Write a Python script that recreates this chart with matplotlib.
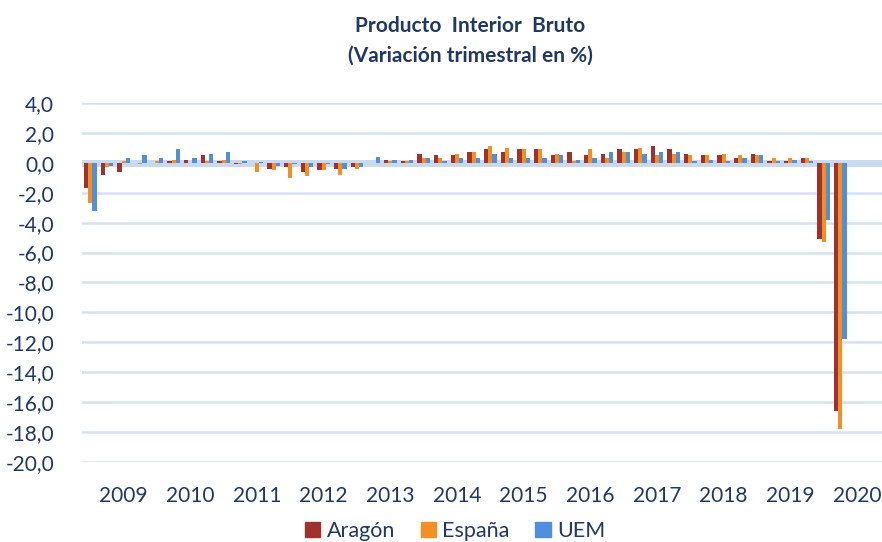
import numpy as np
import matplotlib
matplotlib.use("Agg")
import matplotlib.pyplot as plt
from matplotlib.patches import Patch

plt.rcParams['font.family'] = ['Lato', 'DejaVu Sans']

# Quarterly data 2009 Q1 .. 2020 Q4 (2020 Q3-Q4 without data)
years = [str(y) for y in range(2009, 2021)]

aragon = [-1.7, -0.8, -0.6, 0.0, 0.0, 0.1, 0.2, 0.5,
          0.1, -0.1, 0.0, -0.4, -0.3, -0.6, -0.5, -0.4,
          -0.3, 0.0, 0.2, 0.1, 0.6, 0.5, 0.5, 0.7,
          0.9, 0.7, 0.9, 0.9, 0.5, 0.7, 0.5, 0.6,
          0.9, 0.9, 1.1, 0.9, 0.6, 0.5, 0.5, 0.3,
          0.6, 0.1, 0.1, 0.3, -5.1, -16.6, np.nan, np.nan]

espana = [-2.7, -0.3, 0.1, -0.1, 0.1, 0.2, 0.0, 0.1,
          0.2, -0.1, -0.6, -0.5, -1.0, -0.9, -0.5, -0.8,
          -0.4, 0.0, 0.1, 0.1, 0.3, 0.3, 0.6, 0.7,
          1.1, 1.0, 0.9, 0.9, 0.6, 0.15, 0.9, 0.3,
          0.75, 1.0, 0.5, 0.6, 0.5, 0.5, 0.6, 0.5,
          0.5, 0.35, 0.35, 0.35, -5.3, -17.8, np.nan, np.nan]

uem = [-3.2, -0.2, 0.3, 0.5, 0.35, 0.9, 0.35, 0.6,
       0.75, 0.1, 0.05, -0.2, -0.1, -0.3, -0.1, -0.4,
       -0.3, 0.4, 0.2, 0.2, 0.35, 0.1, 0.35, 0.35,
       0.6, 0.35, 0.35, 0.35, 0.5, 0.2, 0.35, 0.75,
       0.75, 0.6, 0.75, 0.75, 0.1, 0.2, 0.1, 0.35,
       0.5, 0.15, 0.2, 0.1, -3.8, -11.8, np.nan, np.nan]

yticks = np.arange(-20, 4.1, 2)

c_ar = '#A0322D'
c_es = '#F39024'
c_ue = '#4F8FDB'
txt = '#1F3864'

fig = plt.figure(figsize=(8.82, 5.42), dpi=100)
ax = fig.add_axes([0.093, 0.1476, 0.907, 0.6624])

x = np.arange(len(aragon))
w = 0.25
ax.bar(x - w, aragon, w, color=c_ar, zorder=3)
ax.bar(x, espana, w, color=c_es, zorder=3)
ax.bar(x + w, uem, w, color=c_ue, zorder=3)

ax.set_xlim(-0.5, len(aragon) - 0.5)
ax.set_ylim(-20, 4)
ax.set_yticks(yticks)
ax.set_yticklabels([f"{v:.1f}".replace('.', ',') for v in yticks])
ax.yaxis.grid(True, color='#D5E1F1', linewidth=1.8, zorder=0)
ax.axhline(0, color='#C9DAF0', linewidth=5, zorder=2)

ax.set_xticks(np.arange(len(years)) * 4 + 2)
ax.set_xticklabels(years)
ax.tick_params(axis='x', length=0, pad=17, labelsize=15, labelcolor=txt)
ax.tick_params(axis='y', length=0, pad=20, labelsize=15, labelcolor=txt)
for s in ax.spines.values():
    s.set_visible(False)

fig.text(0.533, 0.952, "Producto  Interior  Bruto", ha='center', va='center',
         fontsize=15, fontweight='bold', color=txt)
fig.text(0.533, 0.897, "(Variación trimestral en %)", ha='center', va='center',
         fontsize=15, fontweight='bold', color=txt)

handles = [Patch(color=c_ar, label='Aragón'),
           Patch(color=c_es, label='España'),
           Patch(color=c_ue, label='UEM')]
fig.legend(handles=handles, loc='center', bbox_to_anchor=(0.516, 0.02), ncol=3,
           frameon=False, fontsize=15.5, labelcolor=txt, handlelength=0.7,
           handleheight=0.7, handletextpad=0.3, columnspacing=1.2)

fig.savefig('out.png', dpi=100)
